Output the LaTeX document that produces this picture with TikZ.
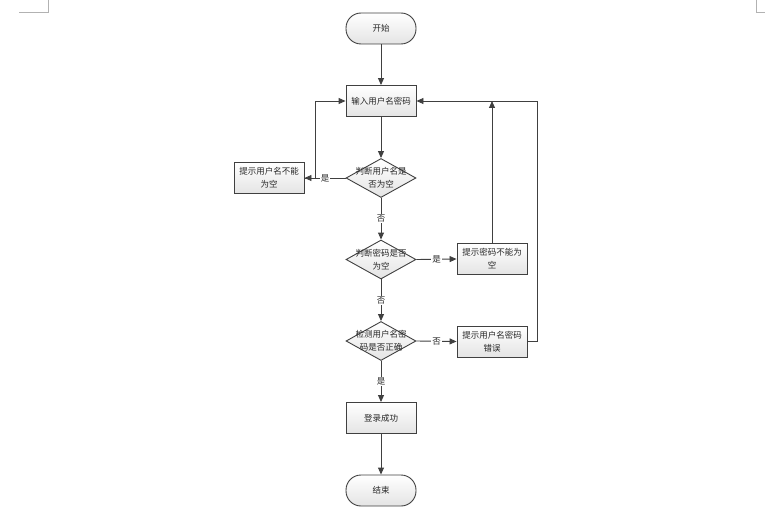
\documentclass[tikz,border=0pt]{standalone}
\usepackage{fontspec}
\newfontfamily\cjk{Noto Sans CJK SC}
\usetikzlibrary{shapes.geometric,arrows.meta}
\definecolor{linec}{HTML}{404040}
\definecolor{boxbot}{HTML}{E4E4E4}
\tikzset{
  base/.style={draw=linec, line width=0.9pt, top color=white, bottom color=boxbot,
    inner sep=0pt, font=\cjk\fontsize{8.5pt}{13pt}\selectfont, text=black!85, align=center},
  procbox/.style={base, rectangle, minimum width=70pt, minimum height=31pt},
  termbox/.style={base, rectangle, rounded corners=15pt, minimum width=70pt, minimum height=31pt},
  decbox/.style={base, diamond, minimum width=70pt, minimum height=39pt},
  dtext/.style={inner sep=0pt, font=\cjk\fontsize{8.5pt}{13pt}\selectfont, text=black!85, align=center},
  conn/.style={draw=linec, line width=0.9pt, -{Triangle[length=7pt,width=6pt]}},
  lab/.style={fill=white, inner sep=1pt, font=\cjk\fontsize{8.5pt}{10pt}\selectfont, text=black!85},
  cornermark/.style={draw=black!30, line width=0.6pt}
}
\begin{document}
\begin{tikzpicture}[x=1pt,y=-1pt]
\useasboundingbox (0,0) rectangle (765,516);
% page corner marks
\coordinate (ml1) at (48,0);
\coordinate (ml2) at (48,12);
\coordinate (ml3) at (19,12);
\coordinate (mr1) at (756,0);
\coordinate (mr2) at (756,12);
\coordinate (mr3) at (765,12);
\draw[cornermark] (ml1) -- (ml2) -- (ml3);
\draw[cornermark] (mr1) -- (mr2) -- (mr3);

\node[termbox] (start) at (381,28.5) {开始};
\node[procbox] (input) at (381,101) {输入用户名密码};
\node[decbox] (d1) at (381,178) {};
\node[dtext] (d1t) at (381,178) {判断用户名是\\否为空};
\node[procbox] (lbox) at (269,178) {提示用户名不能\\为空};
\node[decbox] (d2) at (381,259.5) {};
\node[dtext] (d2t) at (381,259.5) {判断密码是否\\为空};
\node[procbox] (rbox1) at (492,259) {提示密码不能为\\空};
\node[decbox] (d3) at (381,341) {};
\node[dtext] (d3t) at (381,341) {检测用户名密\\码是否正确};
\node[procbox] (rbox2) at (492,341.5) {提示用户名密码\\错误};
\node[procbox] (ok) at (381,418) {登录成功};
\node[termbox] (end) at (381,490.5) {结束};

\draw[conn] (start) -- (input);
\draw[conn] (input) -- (d1);
\draw[conn] (d1.west) -- node[lab] (l1) {是} (lbox.east);
\draw[conn] (lbox.east) -- ++(11,0) |- (input.west);
\draw[conn] (d1.south) -- node[lab] (l2) {否} (d2.north);
\draw[conn] (d2.east) -- node[lab] (l3) {是} (rbox1.west);
\draw[conn] (rbox1.north) -- (rbox1.north |- input.east);
\draw[conn] (d2.south) -- node[lab] (l4) {否} (d3.north);
\draw[conn] (d3.east) -- node[lab] (l5) {否} (rbox2.west);
\draw[conn] (rbox2.east) -- ++(10,0) |- (input.east);
\draw[conn] (d3.south) -- node[lab] (l6) {是} (ok.north);
\draw[conn] (ok) -- (end);
\end{tikzpicture}
\end{document}
